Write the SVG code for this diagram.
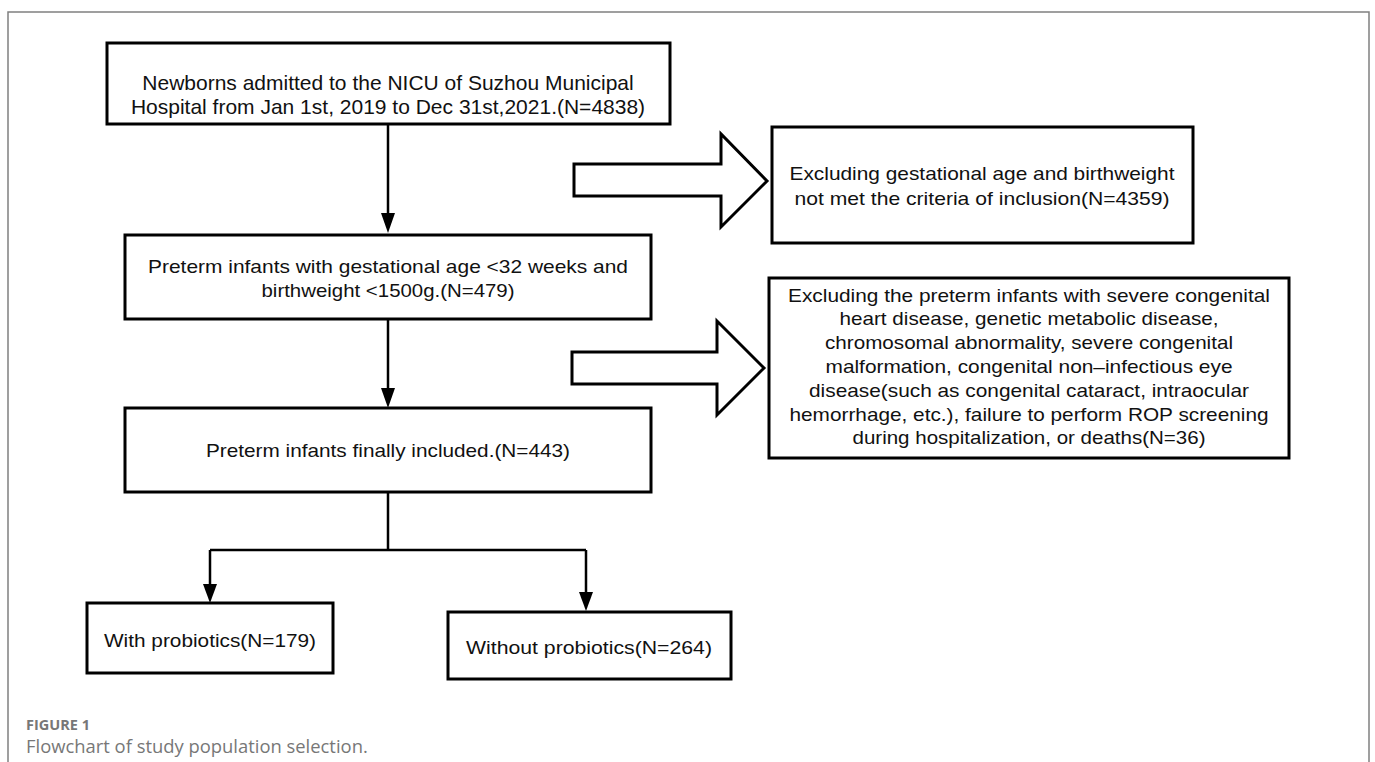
<svg xmlns="http://www.w3.org/2000/svg" width="1375" height="762" viewBox="0 0 1375 762">
<defs>
<style>
.box{fill:#fff;stroke:#000;stroke-width:3}
.blk{fill:#fff;stroke:#000;stroke-width:3;stroke-linejoin:miter}
.t{font-family:"Liberation Sans",Arial,sans-serif;font-size:19px;fill:#111;text-anchor:middle}
.t1{font-size:21px}
.ln{fill:none;stroke:#000;stroke-width:2.5}
.cap1{font-family:"Open Sans","Noto Sans",sans-serif;font-size:14.5px;font-weight:bold;fill:#777}
.cap2{font-family:"Open Sans","Noto Sans",sans-serif;font-size:18.4px;fill:#777}
</style>
</defs>
<rect x="0" y="0" width="1375" height="762" fill="#fff"/>
<path d="M8,770 L8,12 L1369,12 L1369,770" fill="none" stroke="#808080" stroke-width="1.5"/>

<g id="connectors">
<line class="ln" x1="388" y1="124" x2="388" y2="215"/>
<path d="M381,213 L395,213 L388,233 Z" fill="#000"/>
<line class="ln" x1="388" y1="319" x2="388" y2="390"/>
<path d="M381,388 L395,388 L388,408 Z" fill="#000"/>
<path class="ln" d="M388,492 L388,550 M210,550 L586,550 M210,550 L210,586 M586,550 L586,593"/>
<path d="M203,584 L217,584 L210,603 Z" fill="#000"/>
<path d="M579,592 L593,592 L586,611 Z" fill="#000"/>
<polygon class="blk" points="574,164 721,164 721,134 767,181 721,227 721,196 574,196"/>
<polygon class="blk" points="572,352 717,352 717,321 764,368 717,415 717,384 572,384"/>
</g>

<g id="n1">
<rect class="box" x="107" y="43" width="563" height="81"/>
<text class="t t1" x="388" y="90">Newborns admitted to the NICU of Suzhou Municipal</text>
<text class="t t1" x="388" y="114">Hospital from Jan 1st, 2019 to Dec 31st,2021.(N=4838)</text>
</g>

<g id="n2">
<rect class="box" x="125" y="235" width="526" height="84"/>
<text class="t" x="388" y="273" textLength="480" lengthAdjust="spacingAndGlyphs">Preterm infants with gestational age &lt;32 weeks and</text>
<text class="t" x="388" y="297" textLength="253" lengthAdjust="spacingAndGlyphs">birthweight &lt;1500g.(N=479)</text>
</g>

<g id="n3">
<rect class="box" x="125" y="408" width="526" height="84"/>
<text class="t" x="388" y="457" textLength="364" lengthAdjust="spacingAndGlyphs">Preterm infants finally included.(N=443)</text>
</g>

<g id="n4">
<rect class="box" x="87" y="603" width="246" height="70"/>
<text class="t" x="210" y="647" textLength="212" lengthAdjust="spacingAndGlyphs">With probiotics(N=179)</text>
</g>

<g id="n5">
<rect class="box" x="448" y="612" width="283" height="67"/>
<text class="t" x="589" y="654" textLength="246" lengthAdjust="spacingAndGlyphs">Without probiotics(N=264)</text>
</g>

<g id="n6">
<rect class="box" x="772" y="127" width="421" height="116"/>
<text class="t" x="982" y="180" textLength="385" lengthAdjust="spacingAndGlyphs">Excluding gestational age and birthweight</text>
<text class="t" x="982" y="205" textLength="375" lengthAdjust="spacingAndGlyphs">not met the criteria of inclusion(N=4359)</text>
</g>

<g id="n7">
<rect class="box" x="769" y="278" width="520" height="180"/>
<text class="t" x="1029" y="302" textLength="482" lengthAdjust="spacingAndGlyphs">Excluding the preterm infants with severe congenital</text>
<text class="t" x="1029" y="325" textLength="379" lengthAdjust="spacingAndGlyphs">heart disease, genetic metabolic disease,</text>
<text class="t" x="1029" y="349" textLength="408" lengthAdjust="spacingAndGlyphs">chromosomal abnormality, severe congenital</text>
<text class="t" x="1029" y="373" textLength="407" lengthAdjust="spacingAndGlyphs">malformation, congenital non–infectious eye</text>
<text class="t" x="1029" y="397" textLength="440" lengthAdjust="spacingAndGlyphs">disease(such as congenital cataract, intraocular</text>
<text class="t" x="1029" y="421" textLength="479" lengthAdjust="spacingAndGlyphs">hemorrhage, etc.), failure to perform ROP screening</text>
<text class="t" x="1029" y="444" textLength="353" lengthAdjust="spacingAndGlyphs">during hospitalization, or deaths(N=36)</text>
</g>

<g id="caption">
<text class="cap1" x="26" y="730">FIGURE 1</text>
<text class="cap2" x="26" y="753">Flowchart of study population selection.</text>
</g>
</svg>
